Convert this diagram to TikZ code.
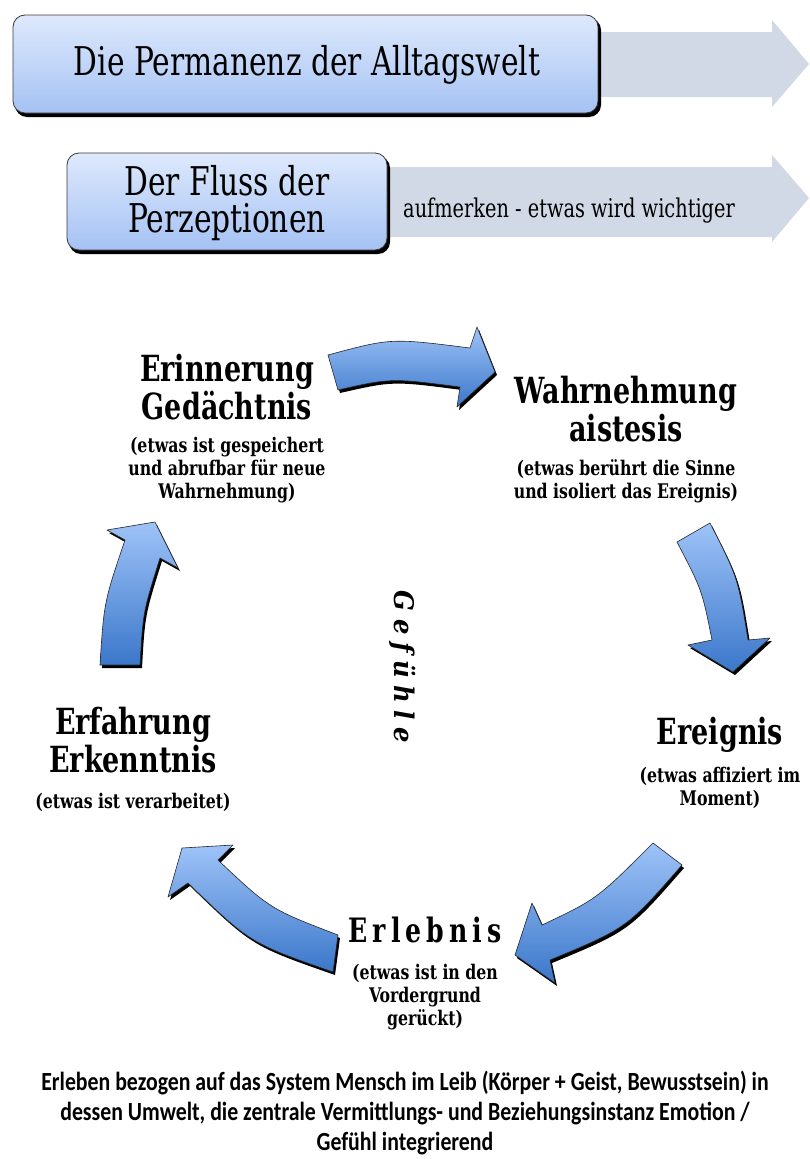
\documentclass[tikz,border=0pt]{standalone}
\usepackage{fontspec}
\setmainfont{DejaVu Serif Condensed}
\newfontfamily\notefont{Carlito}
\definecolor{boxtop}{HTML}{DEE9FC}
\definecolor{boxbot}{HTML}{A5C2F4}
\definecolor{boxedge}{HTML}{3A3A3A}
\definecolor{bandfill}{HTML}{D1D9E6}
\definecolor{arrtop}{HTML}{9EC3F8}
\definecolor{arrbot}{HTML}{3B77CA}

% outlines of the five curved cycle arrows
\newcommand\cycArrowTop{(328,355) .. controls (391,338) .. (470,348) -- (477,327) -- (495,372) -- (457,407) -- (460,387) .. controls (391,378) .. (338,390) -- cycle}
\newcommand\cycArrowRight{(677,542) .. controls (702,590) .. (712,640) -- (688,645) -- (733,672) -- (770,638) -- (748,640) .. controls (738,578) .. (710,523) -- cycle}
\newcommand\cycArrowLowRight{(653,843) .. controls (597,899) .. (542,925) -- (532,903) -- (515,955) -- (555,983) -- (550,960) .. controls (627,928) .. (682,865) -- cycle}
\newcommand\cycArrowLowLeft{(338,935) .. controls (270,909) .. (218,860) -- (233,845) -- (182,848) -- (168,897) -- (188,883) .. controls (250,943) .. (333,972) -- cycle}
\newcommand\cycArrowLeft{(100,665) .. controls (104,602) .. (125,540) -- (107,530) -- (155,522) -- (178,568) -- (160,558) .. controls (143,612) .. (140,665) -- cycle}

\begin{document}
\begin{tikzpicture}[x=1pt,y=-1pt,
  band/.style={fill=bandfill},
  headbox/.style={rounded corners=12pt, top color=boxtop, bottom color=boxbot, draw=boxedge, line width=0.8pt},
  boxshadow/.style={rounded corners=12pt, fill=black},
  cyc/.style={top color=arrtop, bottom color=arrbot, draw=black!85, line width=0.6pt, line join=round},
  cycshadow/.style={fill=black, shift={(2,3)}},
  txt/.style={inner sep=0pt, align=center, yscale=1.2},
  boxtext/.style={txt, font=\fontsize{33}{31}\selectfont},
  flowtext/.style={txt, font=\fontsize{21.5}{24}\selectfont},
  stage/.style={txt, font=\fontsize{30}{31.5}\selectfont\bfseries},
  stagenote/.style={txt, yscale=0.96, font=\fontsize{17.5}{20}\selectfont\bfseries},
  footnote/.style={txt, font=\notefont\fontsize{21.8}{25}\selectfont\bfseries}]
\useasboundingbox (0,0) rectangle (809,1159);
\fill[white] (0,0) rectangle (809,1159);

% wide background arrows
\fill[band] (560,32) -- (772,32) -- (772,20) -- (809,64) -- (772,107) -- (772,97) -- (560,97) -- cycle;
\fill[band] (370,167) -- (772,167) -- (772,155) -- (809,198) -- (772,242) -- (772,237) -- (370,237) -- cycle;

% header boxes
\fill[boxshadow] (15,18) rectangle (601,117);
\path[headbox] (13,15) rectangle (598,113);
\fill[boxshadow] (69,156) rectangle (390,254);
\path[headbox] (67,153) rectangle (387,250);

\node[boxtext] (perm) at (307,65) {Die Permanenz der Alltagswelt};
\node[boxtext] (fluss) at (227,203) {Der Fluss der\\Perzeptionen};
\node[flowtext] (aufm) at (569,211) {aufmerken - etwas wird wichtiger};

% cycle arrows
\foreach \p in {\cycArrowTop,\cycArrowRight,\cycArrowLowRight,\cycArrowLowLeft,\cycArrowLeft}{
  \fill[cycshadow] \p;
  \path[cyc] \p;
}

% stage labels
\node[stage] (erin) at (227,387) {Erinnerung\\Gedächtnis};
\node[stagenote] (erinS) at (227,470) {(etwas ist gespeichert\\und abrufbar für neue\\Wahrnehmung)};
\node[stage] (wahr) at (626,409) {Wahrnehmung\\aistesis};
\node[stagenote] (wahrS) at (626,481) {(etwas berührt die Sinne\\und isoliert das Ereignis)};
\node[stage] (ereig) at (720,735) {Ereignis};
\node[stagenote] (ereigS) at (720,788) {(etwas affiziert im\\Moment)};
\node[stage, font=\fontsize{28}{30}\selectfont\bfseries\addfontfeatures{LetterSpace=18}] (erleb) at (425,930) {Erlebnis};
\node[stagenote] (erlebS) at (425,997) {(etwas ist in den\\Vordergrund\\gerückt)};
\node[stage] (erfa) at (133,740) {Erfahrung\\Erkenntnis};
\node[stagenote] (erfaS) at (133,802) {(etwas ist verarbeitet)};
\node[inner sep=0pt, rotate=-90, font=\fontsize{27}{27}\selectfont\bfseries\itshape\addfontfeatures{LetterSpace=28}] (gef) at (403,667) {Gefühle};

% caption
\node[footnote] (note) at (405,1113) {Erleben bezogen auf das System Mensch im Leib (Körper + Geist, Bewusstsein) in\\dessen Umwelt, die zentrale Vermittlungs- und Beziehungsinstanz Emotion /\\Gefühl integrierend};
\end{tikzpicture}
\end{document}
